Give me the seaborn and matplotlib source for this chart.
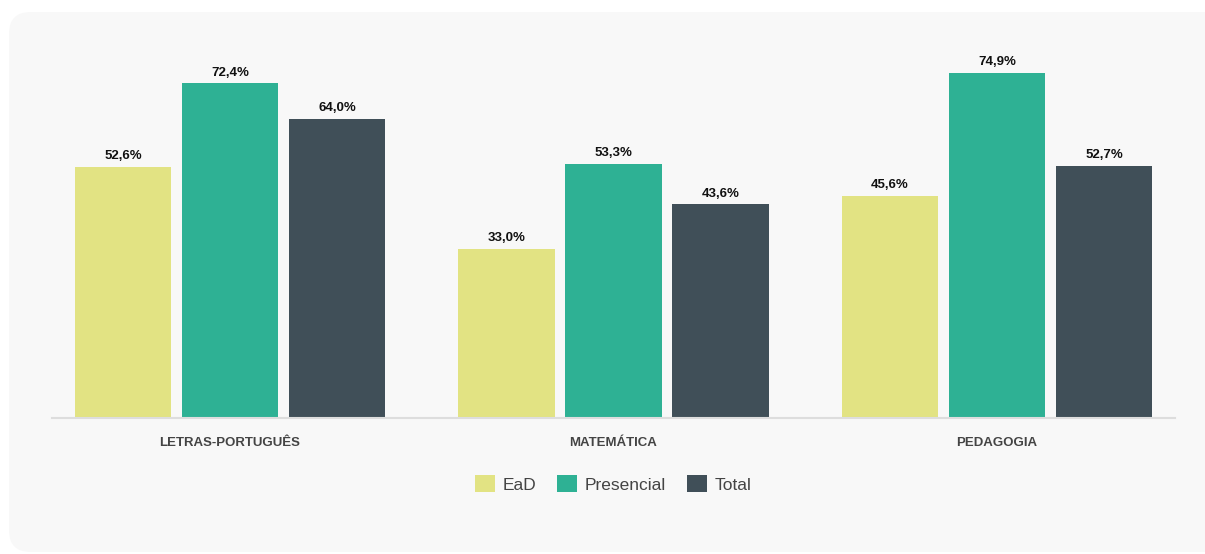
# coding: utf-8

# grouped bars: share per course and modality (EaD / Presencial / Total)

import numpy as np
import pandas as pd
import matplotlib.pyplot as plt
from matplotlib.patches import FancyBboxPatch, Patch
import seaborn as sns

cursos = ['LETRAS-PORTUGUÊS', 'MATEMÁTICA', 'PEDAGOGIA']
modalidades = ['EaD', 'Presencial', 'Total']
ead = [52.6, 33.0, 45.6]
presencial = [72.4, 53.3, 74.9]
total = [64.0, 43.6, 52.7]
cores = ['#e2e383', '#2eb194', '#404f58']

# the source chart's value axis does not start at zero
y_min, y_max = -7.24, 85.13

df = pd.DataFrame({
    'curso': cursos * 3,
    'modalidade': [m for m in modalidades for _ in cursos],
    'valor': ead + presencial + total,
})

sns.set_style('white')
plt.rcParams['font.family'] = ['Liberation Sans', 'DejaVu Sans']

fig = plt.figure(figsize=(12.05, 5.54), dpi=100)
fig.patch.set_facecolor('white')

# light rounded panel behind the chart
W, H = 1205, 554
painel = FancyBboxPatch((9 / W, 2 / H), 1.2, (552 - 12) / H,
                        boxstyle='round,pad=0,rounding_size=0.018',
                        transform=fig.transFigure, facecolor='#f8f8f8',
                        edgecolor='none', mutation_aspect=W / H, zorder=-5)
fig.patches.append(painel)

ax = fig.add_axes([52 / W, 1 - 418 / H, (1175 - 52) / W, (418 - 30) / H])
ax.set_facecolor('none')
ax.set_zorder(2)

sns.barplot(data=df, x='curso', y='valor', hue='modalidade', order=cursos,
            hue_order=modalidades, palette=cores, width=0.837, gap=0.1,
            saturation=1, legend=False, linewidth=0, edgecolor='none', ax=ax)

# let the bars grow from the bottom of the value axis
for p in ax.patches:
    h = p.get_height()
    p.set_y(y_min)
    p.set_height(h - y_min)

for cont in ax.containers:
    ax.bar_label(cont, labels=[f'{v:.1f}%'.replace('.', ',') for v in cont.datavalues],
                 padding=3.5, fontsize=9.5, fontweight='bold', color='#111111')

ax.set_xlim(-0.464, 2.464)
ax.set_ylim(y_min, y_max)
ax.set_xlabel('')
ax.set_ylabel('')
ax.set_yticks([])
for s in ['top', 'right', 'left']:
    ax.spines[s].set_visible(False)
ax.spines['bottom'].set_color('#dddddd')
ax.spines['bottom'].set_linewidth(1.5)
ax.tick_params(axis='x', length=0, pad=14)
for t in ax.get_xticklabels():
    t.set_fontsize(9.5)
    t.set_fontweight('bold')
    t.set_color('#444444')

handles = [Patch(facecolor=c, edgecolor='none') for c in cores]
leg = fig.legend(handles, modalidades, loc='center', bbox_to_anchor=(613 / W, 1 - 484 / H),
                 ncol=3, frameon=False, fontsize=12.5, labelcolor='#444444',
                 handlelength=1.15, handleheight=1.15, handletextpad=0.45, columnspacing=1.2)
leg.set_zorder(3)

plt.savefig('out.png', dpi=100)
